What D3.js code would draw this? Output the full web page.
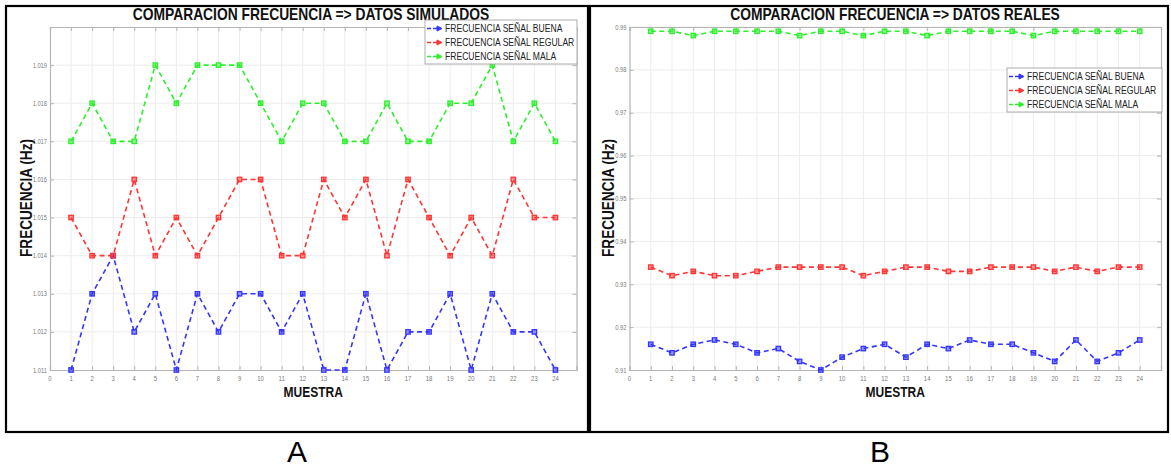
<!DOCTYPE html>
<html>
<head>
<meta charset="utf-8">
<script src="https://cdn.jsdelivr.net/npm/d3@7"></script>
<style>
  html, body { margin: 0; padding: 0; background: #fff; }
  svg { display: block; }
</style>
</head>
<body>
<svg id="chart" width="1171" height="467"></svg>
<script>
// ---------- DATA ----------
const muestras = d3.range(1, 25);
const xTicks = d3.range(0, 25);

const seriesNames = ["FRECUENCIA SEÑAL BUENA", "FRECUENCIA SEÑAL REGULAR", "FRECUENCIA SEÑAL MALA"];
const seriesColors = ["#3434ff", "#ff3434", "#2cf02c"];

// Panel A - datos simulados
const simBuena   = [1.011,1.013,1.014,1.012,1.013,1.011,1.013,1.012,1.013,1.013,1.012,1.013,1.011,1.011,1.013,1.011,1.012,1.012,1.013,1.011,1.013,1.012,1.012,1.011];
const simRegular = [1.015,1.014,1.014,1.016,1.014,1.015,1.014,1.015,1.016,1.016,1.014,1.014,1.016,1.015,1.016,1.014,1.016,1.015,1.014,1.015,1.014,1.016,1.015,1.015];
const simMala    = [1.017,1.018,1.017,1.017,1.019,1.018,1.019,1.019,1.019,1.018,1.017,1.018,1.018,1.017,1.017,1.018,1.017,1.017,1.018,1.018,1.019,1.017,1.018,1.017];
const simYTicks  = [1.011,1.012,1.013,1.014,1.015,1.016,1.017,1.018,1.019];
const simYDomain = [1.011, 1.020];

// Panel B - datos reales
const realBuena   = [0.916,0.914,0.916,0.917,0.916,0.914,0.915,0.912,0.910,0.913,0.915,0.916,0.913,0.916,0.915,0.917,0.916,0.916,0.914,0.912,0.917,0.912,0.914,0.917];
const realRegular = [0.934,0.932,0.933,0.932,0.932,0.933,0.934,0.934,0.934,0.934,0.932,0.933,0.934,0.934,0.933,0.933,0.934,0.934,0.934,0.933,0.934,0.933,0.934,0.934];
const realMala    = [0.989,0.989,0.988,0.989,0.989,0.989,0.989,0.988,0.989,0.989,0.988,0.989,0.989,0.988,0.989,0.989,0.989,0.989,0.988,0.989,0.989,0.989,0.989,0.989];
const realYTicks  = [0.91,0.92,0.93,0.94,0.95,0.96,0.97,0.98,0.99];
const realYDomain = [0.91, 0.99];

const titles = ["COMPARACION FRECUENCIA => DATOS SIMULADOS", "COMPARACION FRECUENCIA => DATOS REALES"];
const panelLabels = ["A", "B"];

// ---------- DRAW ----------
const svg = d3.select("#chart");
const SANS = "'Liberation Sans',Arial,Helvetica,sans-serif";

// text drawn horizontally condensed via a scale transform
function narrowText(parent, x, y, sx, str, size, weight, anchor, fill) {
  const gg = parent.append("g").attr("transform", `translate(${x},${y}) scale(${sx},1)`);
  return gg.append("text").attr("x", 0).attr("y", 0).attr("text-anchor", anchor)
    .style("font-family", SANS).style("font-size", size + "px").style("font-weight", weight)
    .attr("fill", fill).text(str);
}

function drawPanel(cfg) {
  const g = svg.append("g");
  // outer frame
  g.append("rect").attr("x", cfg.frame[0]).attr("y", cfg.frame[1])
    .attr("width", cfg.frame[2] - cfg.frame[0]).attr("height", cfg.frame[3] - cfg.frame[1])
    .attr("fill", "none").attr("stroke", "#000").attr("stroke-width", 2.2);

  const x = d3.scaleLinear().domain([0, 25]).range([cfg.left, cfg.right]);
  const y = d3.scaleLinear().domain(cfg.yDomain).range([cfg.bottom, cfg.top]);

  // grid
  const grid = g.append("g");
  grid.selectAll("line.vx").data(d3.range(1, 25)).join("line")
    .attr("x1", d => x(d)).attr("x2", d => x(d))
    .attr("y1", cfg.top).attr("y2", cfg.bottom)
    .attr("stroke", "#ececec").attr("stroke-width", 1);
  grid.selectAll("line.hy").data(cfg.yTicks.slice(1)).join("line")
    .attr("x1", cfg.left).attr("x2", cfg.right)
    .attr("y1", d => y(d)).attr("y2", d => y(d))
    .attr("stroke", "#ececec").attr("stroke-width", 1);

  // axes (tick labels drawn separately, condensed)
  const axColor = "#b5b5b5";
  const xAxis = g.append("g").attr("transform", `translate(0,${cfg.bottom})`)
    .call(d3.axisBottom(x).tickValues(xTicks).tickSize(-4).tickFormat(""));
  const yAxis = g.append("g").attr("transform", `translate(${cfg.left},0)`)
    .call(d3.axisLeft(y).tickValues(cfg.yTicks).tickSize(-4).tickFormat(""));
  const xTop = g.append("g").attr("transform", `translate(0,${cfg.top})`)
    .call(d3.axisTop(x).tickValues(xTicks).tickSize(-4).tickFormat(""));
  const yRight = g.append("g").attr("transform", `translate(${cfg.right},0)`)
    .call(d3.axisRight(y).tickValues(cfg.yTicks).tickSize(-4).tickFormat(""));
  [xAxis, yAxis, xTop, yRight].forEach(a => {
    a.select(".domain").attr("stroke", axColor).attr("stroke-width", 1.2);
    a.selectAll(".tick line").attr("stroke", axColor);
  });
  xTicks.forEach(t => narrowText(g, x(t), cfg.bottom + 10.5, 0.85, d3.format("d")(t), 7, "normal", "middle", "#7a7a7a"));
  cfg.yTicks.forEach(t => narrowText(g, cfg.left - 3, y(t) + 2.5, 0.82, cfg.fmt(t), 7, "normal", "end", "#7a7a7a"));

  // series
  const lineGen = d3.line().x((d, i) => x(muestras[i])).y(d => y(d));
  cfg.series.forEach((vals, si) => {
    const col = seriesColors[si];
    g.append("path").datum(vals).attr("d", lineGen)
      .attr("fill", "none").attr("stroke", col).attr("stroke-width", 1.6)
      .attr("stroke-dasharray", "5,3.5");
    g.selectAll(null).data(vals).join("rect")
      .attr("x", (d, i) => x(muestras[i]) - 2.2).attr("y", d => y(d) - 2.2)
      .attr("width", 4.4).attr("height", 4.4)
      .attr("fill", col).attr("fill-opacity", 0.5)
      .attr("stroke", col).attr("stroke-width", 1.3);
  });

  const cx = (cfg.left + cfg.right) / 2;
  // title
  narrowText(g, cfg.titleX, 19.5, 0.865, cfg.title, 16, "bold", "middle", "#111");

  // axis labels
  narrowText(g, cx, 397, 0.8, "MUESTRA", 15, "bold", "middle", "#111");
  const ylg = g.append("g").attr("transform", `translate(${cfg.yLabelX},${198}) rotate(-90) scale(0.85,1)`);
  ylg.append("text").attr("text-anchor", "middle")
    .style("font-family", SANS).style("font-weight", "bold").style("font-size", "16px")
    .attr("fill", "#111").text("FRECUENCIA (Hz)");

  // legend
  const lg = g.append("g").attr("transform", `translate(${cfg.legend[0]},${cfg.legend[1]})`);
  lg.append("rect").attr("width", cfg.legend[2]).attr("height", cfg.legend[3])
    .attr("fill", "#fff").attr("stroke", "#9a9a9a").attr("stroke-width", 0.8);
  seriesNames.forEach((name, i) => {
    const yy = 8.5 + i * 14;
    const col = seriesColors[i];
    lg.append("line").attr("x1", 2).attr("x2", 13).attr("y1", yy).attr("y2", yy)
      .attr("stroke", col).attr("stroke-width", 1.6).attr("stroke-dasharray", "4,2");
    lg.append("path").attr("d", `M${12},${yy - 2.5}L${17},${yy}L${12},${yy + 2.5}Z`)
      .attr("fill", col).attr("stroke", col).attr("stroke-width", 1);
    narrowText(lg, 20, yy + 3.8, 0.78, name, 11, "normal", "start", "#222");
  });

  // panel letter
  svg.append("text").attr("x", cfg.letterX).attr("y", 462).attr("text-anchor", "middle")
    .style("font-family", SANS).style("font-size", "30px").attr("fill", "#000").text(cfg.letter);
}

drawPanel({
  frame: [6, 6, 588, 432],
  left: 50, right: 576.5, top: 27, bottom: 370,
  yDomain: simYDomain, yTicks: simYTicks, fmt: d3.format(".3f"),
  series: [simBuena, simRegular, simMala],
  title: titles[0], titleX: 311, yLabelX: 32, letterX: 297,
  legend: [425, 20, 152, 44], letter: panelLabels[0]
});
drawPanel({
  frame: [590, 6, 1168, 432],
  left: 629.5, right: 1161, top: 27, bottom: 370,
  yDomain: realYDomain, yTicks: realYTicks, fmt: d3.format(".2f"),
  series: [realBuena, realRegular, realMala],
  title: titles[1], titleX: 895, yLabelX: 614, letterX: 880,
  legend: [1007, 68, 155, 44], letter: panelLabels[1]
});
</script>
</body>
</html>
